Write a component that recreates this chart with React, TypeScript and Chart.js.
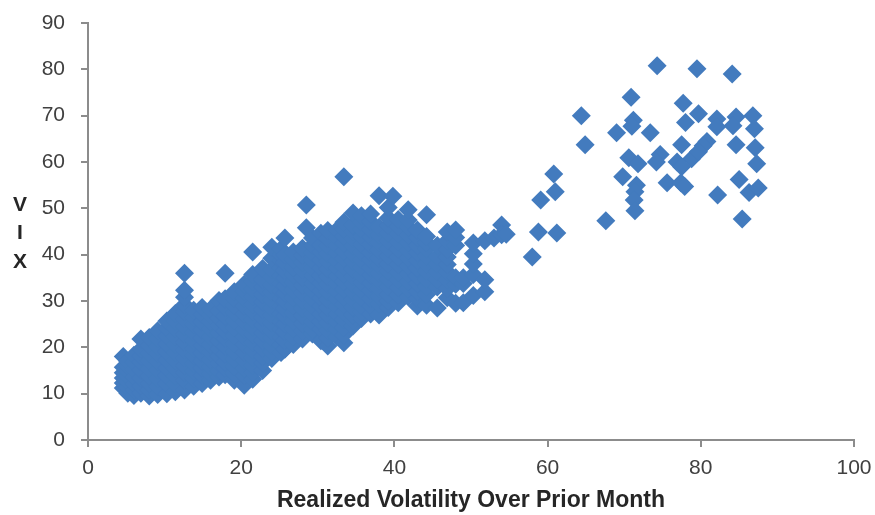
import React, { useEffect, useRef } from "react";
import { Chart, registerables } from "chart.js";

Chart.register(...registerables);

const xTicks = [0, 20, 40, 60, 80, 100];
const yTicks = [0, 10, 20, 30, 40, 50, 60, 70, 80, 90];
const xTitle = "Realized Volatility Over Prior Month";
const yTitleLetters = ["V", "I", "X"];

// [realized vol, VIX readings at about that vol]
const lowVolCluster: [number, number[]][] = [
  [4.6, [11.2, 12.3, 13.4, 14.5, 15.7, 18]],
  [5.2, [10.1, 11.4, 12.6, 13.8, 14.9, 16.0, 17]],
  [6.0, [9.6, 10.8, 12.1, 13.6, 15.2, 16.8, 18.3]],
  [6.9, [10.1, 11.7, 13.4, 15.1, 16.8, 18.2, 19.6, 21.8]],
  [8.0, [9.5, 10.8, 12.2, 13.8, 15.4, 17.1, 18.7, 20.4, 22.1]],
  [9.1, [9.8, 11.5, 13.3, 15.1, 16.9, 18.6, 20.2, 21.9, 23.6]],
  [10.3, [10.0, 12.2, 13.9, 15.6, 17.3, 19.1, 20.8, 22.4, 24.1, 25.7]],
  [11.4, [10.4, 12.1, 13.8, 15.5, 17.2, 18.9, 20.6, 22.3, 24.1, 25.7, 27.3]],
  [12.6, [10.8, 12.9, 14.5, 16.0, 17.7, 19.4, 21.1, 22.8, 24.5, 26.1, 27.7, 29.2, 30.8, 32.3, 36.0]],
  [13.8, [11.6, 13.2, 14.9, 16.5, 18.2, 19.8, 21.5, 23.2, 24.9, 26.5, 28.0]],
  [14.9, [12.2, 13.9, 15.5, 17.1, 18.7, 20.4, 22.0, 23.7, 25.4, 27.1, 28.6]],
  [16.0, [12.9, 14.3, 15.8, 17.4, 19.0, 20.6, 22.3, 24.0, 25.6, 27.0, 28.2]],
  [17.1, [13.6, 14.9, 16.5, 18.1, 19.7, 21.4, 23.1, 24.7, 26.3, 27.9, 30.1]],
  [17.9, [14.1, 15.5, 16.9, 18.5, 20.2, 21.9, 23.5, 25.1, 26.8, 28.6, 30.5, 36.0]],
  [19.1, [12.9, 14.4, 15.9, 17.5, 19.1, 20.8, 22.5, 24.2, 25.8, 27.5, 29.1, 30.6, 32.0]],
  [20.4, [11.8, 13.9, 15.5, 17.2, 18.9, 20.6, 22.3, 23.9, 25.5, 27.2, 28.9, 30.6, 32.1, 33.6]],
  [21.5, [13.1, 14.6, 16.1, 17.8, 19.4, 21.1, 22.7, 24.4, 26.0, 27.7, 29.3, 31.0, 32.6, 34.2, 35.7, 40.6]],
  [22.8, [15.0, 16.6, 18.1, 19.8, 21.4, 23.1, 24.8, 26.5, 28.1, 29.8, 31.4, 33.0, 34.6, 37.0]],
  [24.0, [17.6, 19.0, 20.4, 22.0, 23.6, 25.3, 26.9, 28.5, 30.2, 31.9, 33.5, 35.2, 36.8, 39.2, 41.6]],
  [25.2, [18.9, 20.5, 22.2, 23.9, 25.5, 27.2, 28.8, 30.5, 32.1, 33.8, 35.4, 37.1, 38.7, 40.0, 41.2]],
];

const midVolCluster: [number, number[]][] = [
  [25.7, [19.6, 21.5, 23.4, 25.0, 26.7, 28.4, 30.0, 31.7, 33.3, 35.0, 36.6, 38.3, 39.9, 43.6]],
  [26.8, [20.6, 22.3, 24.0, 25.7, 27.4, 29.0, 30.7, 32.4, 34.0, 35.7, 37.3, 39.0, 40.6]],
  [28.0, [21.8, 23.5, 25.1, 26.8, 28.4, 30.1, 31.7, 33.4, 35.0, 36.7, 38.3, 39.9, 41.4]],
  [28.5, [45.8, 50.7]],
  [29.3, [22.9, 23.9, 25.5, 27.2, 28.9, 30.5, 32.2, 33.8, 35.5, 37.1, 38.8, 40.4, 42.0, 43.6]],
  [30.4, [21.4, 23.9, 25.6, 27.2, 28.9, 30.6, 32.2, 33.9, 35.5, 37.2, 38.8, 40.5, 42.1, 44.6]],
  [31.3, [20.3, 22.0, 23.7, 25.3, 27.0, 28.6, 30.3, 32.0, 33.6, 35.3, 36.9, 38.6, 40.2, 41.9, 43.5, 45.2]],
  [32.5, [22.3, 23.9, 25.5, 27.2, 28.8, 30.5, 32.1, 33.8, 35.4, 37.1, 38.7, 40.4, 42.0, 43.7, 45.3]],
  [33.4, [21.0, 22.7, 24.3, 26.0, 27.6, 29.3, 30.9, 32.6, 34.2, 35.9, 37.5, 39.2, 40.8, 42.5, 44.1, 45.6, 47.0, 56.8]],
  [34.6, [24.6, 25.8, 27.0, 28.7, 30.3, 32.0, 33.6, 35.3, 36.9, 38.6, 40.2, 41.9, 43.5, 45.0, 46.4, 49.0]],
  [35.7, [26.2, 27.6, 29.0, 30.7, 32.3, 34.0, 35.6, 37.3, 38.9, 40.6, 42.2, 43.9, 45.5, 47.0, 48.4]],
  [36.9, [27.2, 28.9, 30.6, 32.3, 33.9, 35.6, 37.2, 38.9, 40.5, 42.2, 43.8, 45.5, 47.1, 48.8]],
];

const highVolCluster: [number, number[]][] = [
  [38.0, [27.0, 29.4, 31.0, 32.7, 34.4, 36.0, 37.7, 39.3, 41.0, 42.6, 44.3, 45.9, 52.7]],
  [39.2, [28.6, 30.0, 31.4, 33.1, 34.7, 36.4, 38.0, 39.7, 41.3, 43.0, 44.6, 46.3, 47.9, 50.2]],
  [39.8, [52.6]],
  [40.5, [29.6, 31.3, 32.9, 34.6, 36.2, 37.9, 39.5, 41.2, 42.8, 44.5, 46.1, 47.6]],
  [41.8, [30.9, 32.6, 34.2, 35.9, 37.5, 39.2, 40.9, 42.6, 44.2, 45.9, 47.5, 49.7]],
  [43.0, [28.9, 30.5, 32.1, 33.8, 35.4, 37.1, 38.7, 40.4, 42.0, 43.7, 45.3]],
  [44.2, [29.1, 31.4, 33.1, 34.7, 36.4, 38.0, 39.7, 41.3, 42.6, 43.9, 48.6]],
  [45.6, [28.5, 33.0, 34.7, 36.3, 38.0, 39.6, 42.0]],
  [46.9, [30.7, 32.7, 34.6, 36.3, 37.9, 39.5, 41.1, 43.0, 44.9]],
  [48.0, [29.5, 33.6, 35.0, 42.0, 43.7, 45.3]],
  [49.0, [29.6, 33.8, 35.0]],
  [50.3, [31.2, 35.7, 38.0, 40.2, 42.5]],
  [51.8, [32.0, 34.6, 43.0]],
  [53.0, [43.6]],
  [54.0, [46.4, 44.3]],
  [54.6, [44.4]],
];

const crisisVol = [
  74.3, 79.5, 84.1, 70.9, 77.7, 79.7, 64.4, 86.8, 84.6, 82.1, 71.2, 78, 71, 82.1, 84.2, 87,
  69, 73.4, 64.9, 80.8, 80.3, 77.5, 84.6, 87.1, 74.7, 78.8, 79.7, 70.6, 71.8, 74.2, 76.9, 77.5,
  87.3, 69.8, 71.6, 71.4, 71.3, 71.4, 75.6, 77.4, 77.9, 85, 86.3, 87.5, 82.2, 85.4, 60.8, 61,
  59.1, 58.8, 61.2, 58, 67.6,
];
const crisisVix = [
  80.8, 80.1, 79, 74, 72.7, 70.4, 70, 70, 69.7, 69.3, 69, 68.5, 67.7, 67.6, 67.8, 67.2,
  66.3, 66.3, 63.7, 64.4, 63.5, 63.7, 63.7, 63.1, 61.6, 60.7, 62.2, 60.9, 59.6, 60, 60, 59,
  59.6, 56.8, 55, 53.6, 51.8, 49.5, 55.5, 55.5, 54.7, 56.2, 53.4, 54.4, 52.9, 47.7, 57.4, 53.6,
  51.8, 44.9, 44.7, 39.5, 47.3,
];

const MARK = "#437BBE";
const AXIS = "#8C8C8C";
const INK = "#404040";
const FONT = "'Liberation Sans', Arial, sans-serif";

function expand(cols: [number, number[]][]) {
  return cols.flatMap(([x, ys]) => ys.map((y) => ({ x, y })));
}

function noOverflow(s: any) {
  s.paddingLeft = 0;
  s.paddingRight = 0;
  s.paddingTop = 0;
  s.paddingBottom = 0;
}

const yLetters = {
  id: "yLetters",
  afterDraw(chart: Chart) {
    const { ctx } = chart;
    ctx.save();
    ctx.font = `bold 21px ${FONT}`;
    ctx.fillStyle = "#262626";
    ctx.textAlign = "center";
    ctx.textBaseline = "middle";
    const rows = [205, 233, 262];
    yTitleLetters.forEach((l, i) => ctx.fillText(l, 20, rows[i]));
    ctx.restore();
  },
};

export default function App() {
  const ref = useRef<HTMLCanvasElement>(null);
  useEffect(() => {
    document.body.style.margin = "0";
    const data = [
      ...expand(lowVolCluster),
      ...expand(midVolCluster),
      ...expand(highVolCluster),
      ...crisisVol.map((x, i) => ({ x, y: crisisVix[i] })),
    ];
    const chart = new Chart(ref.current!, {
      type: "scatter",
      data: {
        datasets: [
          {
            label: "VIX",
            data,
            pointStyle: "rectRot",
            pointRadius: 9.5,
            pointBackgroundColor: MARK,
            pointBorderColor: MARK,
            pointBorderWidth: 0,
          },
        ],
      },
      options: {
        animation: false,
        responsive: false,
        layout: { padding: { top: 23, right: 21, left: 0, bottom: 0 } },
        plugins: { legend: { display: false }, tooltip: { enabled: false } },
        scales: {
          x: {
            type: "linear",
            min: 0,
            max: 100,
            afterBuildTicks: (s: any) => {
              s.ticks = xTicks.map((value) => ({ value }));
            },
            afterFit: (s: any) => {
              s.height = 75;
              noOverflow(s);
            },
            border: { color: AXIS, width: 2 },
            grid: { drawOnChartArea: false, drawTicks: true, tickLength: 7, color: AXIS, lineWidth: 2 },
            ticks: { color: INK, font: { family: FONT, size: 21 }, padding: 9, maxRotation: 0 },
            title: {
              display: true,
              text: xTitle,
              color: "#262626",
              font: { family: FONT, size: 23, weight: "bold" },
              padding: { top: 0, bottom: 1 },
            },
          },
          y: {
            type: "linear",
            min: 0,
            max: 90,
            afterBuildTicks: (s: any) => {
              s.ticks = yTicks.map((value) => ({ value }));
            },
            afterFit: (s: any) => {
              s.width = 88;
              noOverflow(s);
            },
            border: { color: AXIS, width: 2 },
            grid: { drawOnChartArea: false, drawTicks: true, tickLength: 7, color: AXIS, lineWidth: 2 },
            ticks: { color: INK, font: { family: FONT, size: 21 }, padding: 16 },
          },
        },
      },
      plugins: [yLetters],
    });
    return () => chart.destroy();
  }, []);
  return <canvas ref={ref} width={875} height={515} style={{ display: "block" }} />;
}
